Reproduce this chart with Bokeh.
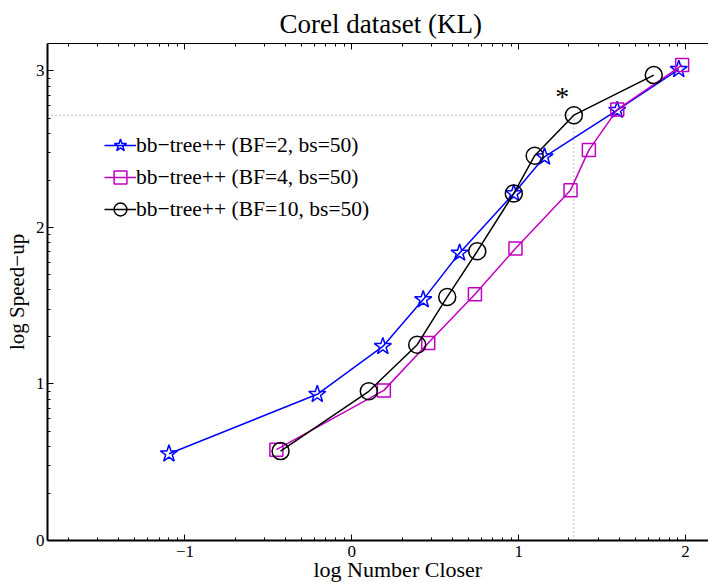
import math
from bokeh.plotting import figure
from bokeh.models import Range1d, FixedTicker, LinearAxis, Legend, LegendItem, Title
from bokeh.embed import file_html
from bokeh.resources import INLINE
from bokeh.core.properties import value

title_text = "Corel dataset (KL)"
x_label = "log Number Closer"
y_label = "log Speed\u2212up"

bf2_x = [-1.096, -0.207, 0.186, 0.428, 0.646, 0.971, 1.155, 1.591, 1.960]
bf2_y = [0.554, 0.934, 1.240, 1.539, 1.837, 2.217, 2.451, 2.749, 3.010]
bf4_x = [-0.452, 0.192, 0.458, 0.738, 0.981, 1.311, 1.421, 1.591, 1.980]
bf4_y = [0.580, 0.959, 1.262, 1.573, 1.865, 2.238, 2.494, 2.753, 3.037]
bf10_x = [-0.427, 0.102, 0.392, 0.572, 0.752, 0.971, 1.096, 1.331, 1.810]
bf10_y = [0.571, 0.953, 1.251, 1.556, 1.848, 2.217, 2.458, 2.717, 2.973]

series_labels = ["bb\u2212tree++ (BF=2, bs=50)",
                 "bb\u2212tree++ (BF=4, bs=50)",
                 "bb\u2212tree++ (BF=10, bs=50)"]

ref_x = 1.331
ref_y = 2.717
note_x = [1.262]
note_y = [2.834]
note_text = ["*"]

x_ticks = [-1, 0, 1, 2]
x_tick_labels = ["\u22121", "0", "1", "2"]
y_ticks = [0, 1, 2, 3]
y_tick_labels = ["0", "1", "2", "3"]
x_lim = (-1.824, 2.138)
y_lim = (0.0, 3.175)

FONT = "Liberation Serif"


def minor(lo, hi):
    out = []
    for n in range(-3, 4):
        for k in range(2, 10):
            v = n + math.log10(k)
            if lo < v < hi:
                out.append(v)
    return out


p = figure(width=708, height=582, output_backend="svg", toolbar_location=None,
           x_range=Range1d(*x_lim), y_range=Range1d(*y_lim),
           min_border_left=47, min_border_right=0, min_border_top=43,
           min_border_bottom=42)
p.outline_line_color = None
p.grid.visible = False
p.background_fill_color = "white"
p.border_fill_color = "white"

p.title.text = title_text
p.title.align = "left"
p.title.offset = 232
p.title.text_font = FONT
p.title.text_font_size = "27px"
p.title.text_font_style = "normal"
p.title.text_color = "black"

xt = FixedTicker(ticks=x_ticks, minor_ticks=minor(*x_lim))
yt = FixedTicker(ticks=y_ticks, minor_ticks=minor(*y_lim))


def style_axis(ax, lw):
    ax.axis_line_width = lw
    ax.axis_line_color = "black"
    ax.major_tick_in = 6
    ax.major_tick_out = 0
    ax.minor_tick_in = 3
    ax.minor_tick_out = 0
    ax.major_tick_line_color = "black"
    ax.minor_tick_line_color = "black"
    ax.major_label_text_font = FONT
    ax.major_label_text_font_size = "17px"
    ax.major_label_text_color = "black"
    ax.axis_label_text_font = FONT
    ax.axis_label_text_font_size = "21px"
    ax.axis_label_text_font_style = "normal"
    ax.axis_label_text_color = "black"


xa = p.xaxis[0]
xa.ticker = xt
xa.major_label_overrides = dict(zip(x_ticks, x_tick_labels))
style_axis(xa, 2)
xa.major_label_standoff = 5

ya = p.yaxis[0]
ya.ticker = yt
ya.major_label_overrides = dict(zip(y_ticks, y_tick_labels))
ya.axis_label = y_label
style_axis(ya, 2)
ya.major_label_standoff = 3
ya.axis_label_standoff = 4

top = LinearAxis(ticker=FixedTicker(ticks=x_ticks, minor_ticks=minor(*x_lim)))
style_axis(top, 1)
top.major_label_overrides = {t: "" for t in x_ticks}
top.major_label_text_font_size = "1px"
top.major_label_standoff = 0
p.add_layout(top, "above")

# x-axis title as a bottom title, shifted like the (cropped) original
p.add_layout(Title(text=x_label, align="left", offset=266, standoff=-10,
                   text_font=FONT, text_font_size="22px", text_font_style="normal",
                   text_color="black"), "below")

# reference dotted lines
p.line([x_lim[0], ref_x], [ref_y, ref_y], line_color="#777777", line_width=1, line_dash="1 3")
p.line([ref_x, ref_x], [y_lim[0], ref_y], line_color="#777777", line_width=1, line_dash="1 3")

BLUE = "#0000FF"
MAG = "#C000C0"
BLACK = "#000000"

l1 = p.line(bf2_x, bf2_y, line_color=BLUE, line_width=1.5)
m1 = p.scatter(bf2_x, bf2_y, marker="star", size=18, line_color=BLUE, line_width=1.5, fill_color=None)
l2 = p.line(bf4_x, bf4_y, line_color=MAG, line_width=1.5)
m2 = p.scatter(bf4_x, bf4_y, marker="square", size=13, line_color=MAG, line_width=1.5, fill_color=None)
l3 = p.line(bf10_x, bf10_y, line_color=BLACK, line_width=1.5)
m3 = p.scatter(bf10_x, bf10_y, marker="circle", size=17, line_color=BLACK, line_width=1.5, fill_color=None)

p.text(note_x, note_y, text=note_text, text_font=value(FONT), text_font_size="28px",
       text_align="center", text_baseline="middle", text_color="black")

legend = Legend(items=[LegendItem(label=series_labels[0], renderers=[l1, m1]),
                       LegendItem(label=series_labels[1], renderers=[l2, m2]),
                       LegendItem(label=series_labels[2], renderers=[l3, m3])],
                location=(57, 315), glyph_width=32, glyph_height=32, label_height=32,
                spacing=0, padding=0, margin=0, label_standoff=0,
                border_line_color=None, background_fill_alpha=0,
                label_text_font=FONT, label_text_font_size="21.5px", label_text_color="black")
p.add_layout(legend)

open("out.html", "w").write(file_html(p, INLINE))
